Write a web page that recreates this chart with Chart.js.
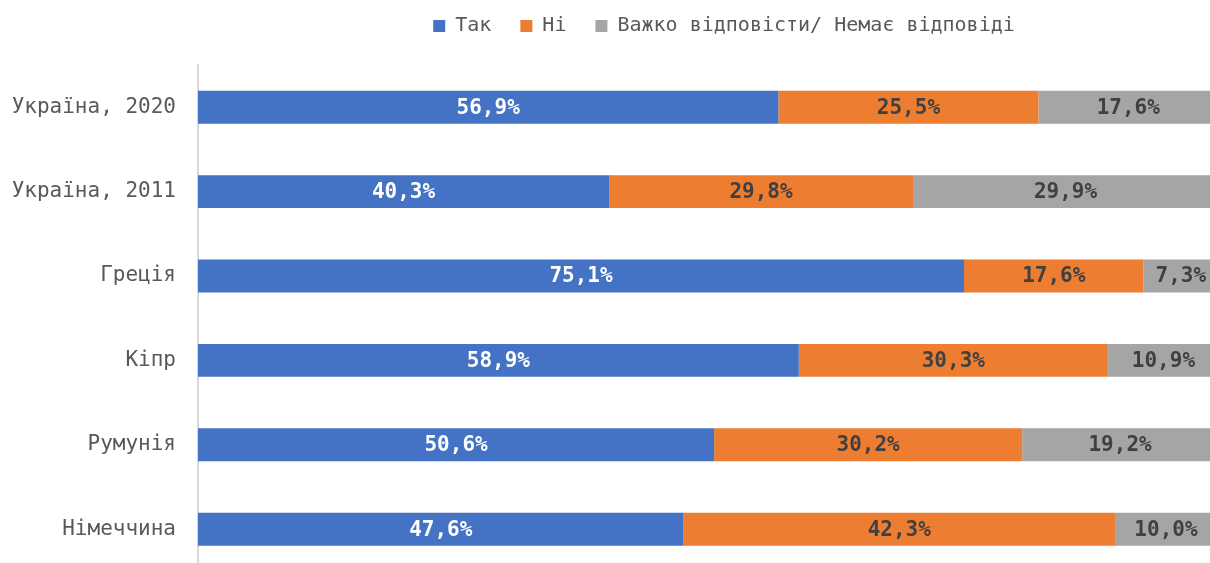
<!DOCTYPE html>
<html>
<head>
<meta charset="utf-8">
<script src="https://cdn.jsdelivr.net/npm/chart.js@4"></script>
<style>
  html, body { margin: 0; padding: 0; background: #fff; overflow: hidden; }
  #wrap { position: relative; width: 1220px; height: 606px; }
</style>
</head>
<body>
<div id="wrap"><canvas id="myChart"></canvas></div>
<script>
var countries = ["Україна, 2020", "Україна, 2011", "Греція", "Кіпр", "Румунія", "Німеччина"];
var yesValues = [56.9, 40.3, 75.1, 58.9, 50.6, 47.6];
var noValues = [25.5, 29.8, 17.6, 30.3, 30.2, 42.3];
var hardValues = [17.6, 29.9, 7.3, 10.9, 19.2, 10.0];
var seriesNames = ["Так", "Ні", "Важко відповісти/ Немає відповіді"];

var monoFont = "'DejaVu Sans Mono', 'Liberation Mono', monospace";

// підписи значень усередині смуг
var barLabels = {
  id: "barLabels",
  afterDatasetsDraw: function (chart) {
    var ctx = chart.ctx;
    ctx.save();
    ctx.font = "bold 21px " + monoFont;
    ctx.textAlign = "center";
    ctx.textBaseline = "middle";
    chart.data.datasets.forEach(function (ds, di) {
      var meta = chart.getDatasetMeta(di);
      meta.data.forEach(function (bar, i) {
        var v = ds.data[i];
        ctx.fillStyle = di === 0 ? "#ffffff" : "#404040";
        var txt = v.toFixed(1).replace(".", ",") + "%";
        ctx.fillText(txt, (bar.x + bar.base) / 2, bar.y + 1);
      });
    });
    ctx.restore();
  }
};

// зсув легенди як у оригіналі
var moveLegend = {
  id: "moveLegend",
  afterLayout: function (chart) {
    var lg = chart.legend;
    lg.left += 115;
    lg.right += 115;
    lg.top -= 30;
    lg.bottom -= 30;
  }
};

var ctx = document.getElementById("myChart").getContext("2d");
var chart = new Chart(ctx, {
  type: "bar",
  data: {
    labels: countries,
    datasets: [
      { label: seriesNames[0], data: yesValues, backgroundColor: "#4472C4" },
      { label: seriesNames[1], data: noValues, backgroundColor: "#ED7D31" },
      { label: seriesNames[2], data: hardValues, backgroundColor: "#A5A5A5" }
    ]
  },
  options: {
    indexAxis: "y",
    responsive: true,
    maintainAspectRatio: false,
    animation: false,
    categoryPercentage: 1,
    barPercentage: 0.39,
    layout: { padding: { top: 17, right: 2, bottom: 0, left: 0 } },
    plugins: {
      legend: {
        position: "top",
        maxHeight: 48,
        labels: {
          boxWidth: 12,
          boxHeight: 12,
          padding: 29,
          color: "#595959",
          font: { family: monoFont, size: 20 }
        }
      },
      tooltip: { enabled: false }
    },
    scales: {
      x: {
        stacked: true,
        display: false,
        min: 0,
        max: 100
      },
      y: {
        stacked: true,
        afterFit: function (scale) { scale.width = 198; },
        grid: { display: true, drawOnChartArea: false, drawTicks: false },
        border: { display: true, color: "#d9d9d9", width: 2 },
        ticks: {
          padding: 22,
          color: "#595959",
          font: { family: monoFont, size: 21 }
        }
      }
    }
  },
  plugins: [barLabels, moveLegend]
});
</script>
</body>
</html>
